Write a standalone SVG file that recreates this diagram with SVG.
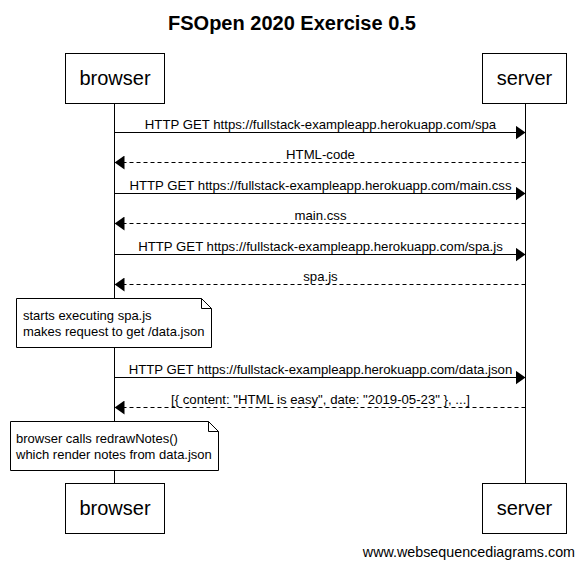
<svg xmlns="http://www.w3.org/2000/svg" width="583" height="566" viewBox="0 0 583 566">
<style>
text{font-family:"Liberation Sans",Arial,sans-serif;fill:#000}
.title{font-size:20px;font-weight:bold;text-anchor:middle}
.actor{font-size:20px;text-anchor:middle}
.msg{font-size:13.2px;text-anchor:middle}
.note{font-size:13px}
.box{fill:#fff;stroke:#000;stroke-width:1}
.life{stroke:#000;stroke-width:1}
.solid{stroke:#000;stroke-width:1;fill:none}
.dash{stroke:#000;stroke-width:1;fill:none;stroke-dasharray:4,3}
</style>
<defs>
<marker id="ah" markerWidth="10" markerHeight="14" refX="10" refY="7" orient="auto" markerUnits="userSpaceOnUse">
<path d="M0,0 L10,7 L0,14 Z" fill="#000"/>
</marker>
</defs>
<rect width="583" height="566" fill="#fff"/>
<text class="title" x="292" y="30">FSOpen 2020 Exercise 0.5</text>
<g id="lifelines">
<line class="life" x1="114.5" y1="103" x2="114.5" y2="483"/>
<line class="life" x1="525.5" y1="103" x2="525.5" y2="483"/>
</g>
<g id="browser-top"><rect class="box" x="65.5" y="53.5" width="99" height="50"/><text class="actor" x="115" y="85">browser</text></g>
<g id="server-top"><rect class="box" x="482.5" y="53.5" width="84" height="50"/><text class="actor" x="524.5" y="85">server</text></g>
<g id="browser-bottom"><rect class="box" x="65.5" y="483.5" width="99" height="50"/><text class="actor" x="115" y="515">browser</text></g>
<g id="server-bottom"><rect class="box" x="482.5" y="483.5" width="84" height="50"/><text class="actor" x="524.5" y="515">server</text></g>
<g id="connectors">
<line class="solid" x1="114.5" y1="132.5" x2="525.5" y2="132.5" marker-end="url(#ah)"/>
<text class="msg" x="320.5" y="129">HTTP GET https://fullstack-exampleapp.herokuapp.com/spa</text>
<line class="dash" x1="525.5" y1="162.5" x2="114.5" y2="162.5" marker-end="url(#ah)"/>
<text class="msg" x="320.5" y="159">HTML-code</text>
<line class="solid" x1="114.5" y1="193.5" x2="525.5" y2="193.5" marker-end="url(#ah)"/>
<text class="msg" x="320.5" y="190">HTTP GET https://fullstack-exampleapp.herokuapp.com/main.css</text>
<line class="dash" x1="525.5" y1="223.5" x2="114.5" y2="223.5" marker-end="url(#ah)"/>
<text class="msg" x="320.5" y="220">main.css</text>
<line class="solid" x1="114.5" y1="254.5" x2="525.5" y2="254.5" marker-end="url(#ah)"/>
<text class="msg" x="320.5" y="251">HTTP GET https://fullstack-exampleapp.herokuapp.com/spa.js</text>
<line class="dash" x1="525.5" y1="284.5" x2="114.5" y2="284.5" marker-end="url(#ah)"/>
<text class="msg" x="320.5" y="281">spa.js</text>
<line class="solid" x1="114.5" y1="377.5" x2="525.5" y2="377.5" marker-end="url(#ah)"/>
<text class="msg" x="320.5" y="374">HTTP GET https://fullstack-exampleapp.herokuapp.com/data.json</text>
<line class="dash" x1="525.5" y1="407.5" x2="114.5" y2="407.5" marker-end="url(#ah)"/>
<text class="msg" x="320.5" y="404">[{ content: "HTML is easy", date: "2019-05-23" }, ...]</text>
</g>
<g id="note1">
<path class="box" d="M16.5,298.5 H201.5 L211.5,308.5 V347.5 H16.5 Z"/>
<path class="solid" d="M201.5,298.5 V308.5 H211.5"/>
<text class="note" x="23" y="320">starts executing spa.js</text>
<text class="note" x="23" y="336">makes request to get /data.json</text>
</g>
<g id="note2">
<path class="box" d="M10.5,421.5 H208.5 L218.5,431.5 V470.5 H10.5 Z"/>
<path class="solid" d="M208.5,421.5 V431.5 H218.5"/>
<text class="note" x="16" y="443">browser calls redrawNotes()</text>
<text class="note" x="16" y="459">which render notes from data.json</text>
</g>
<text x="575" y="557" style="font-size:14.3px;text-anchor:end">www.websequencediagrams.com</text>
</svg>
